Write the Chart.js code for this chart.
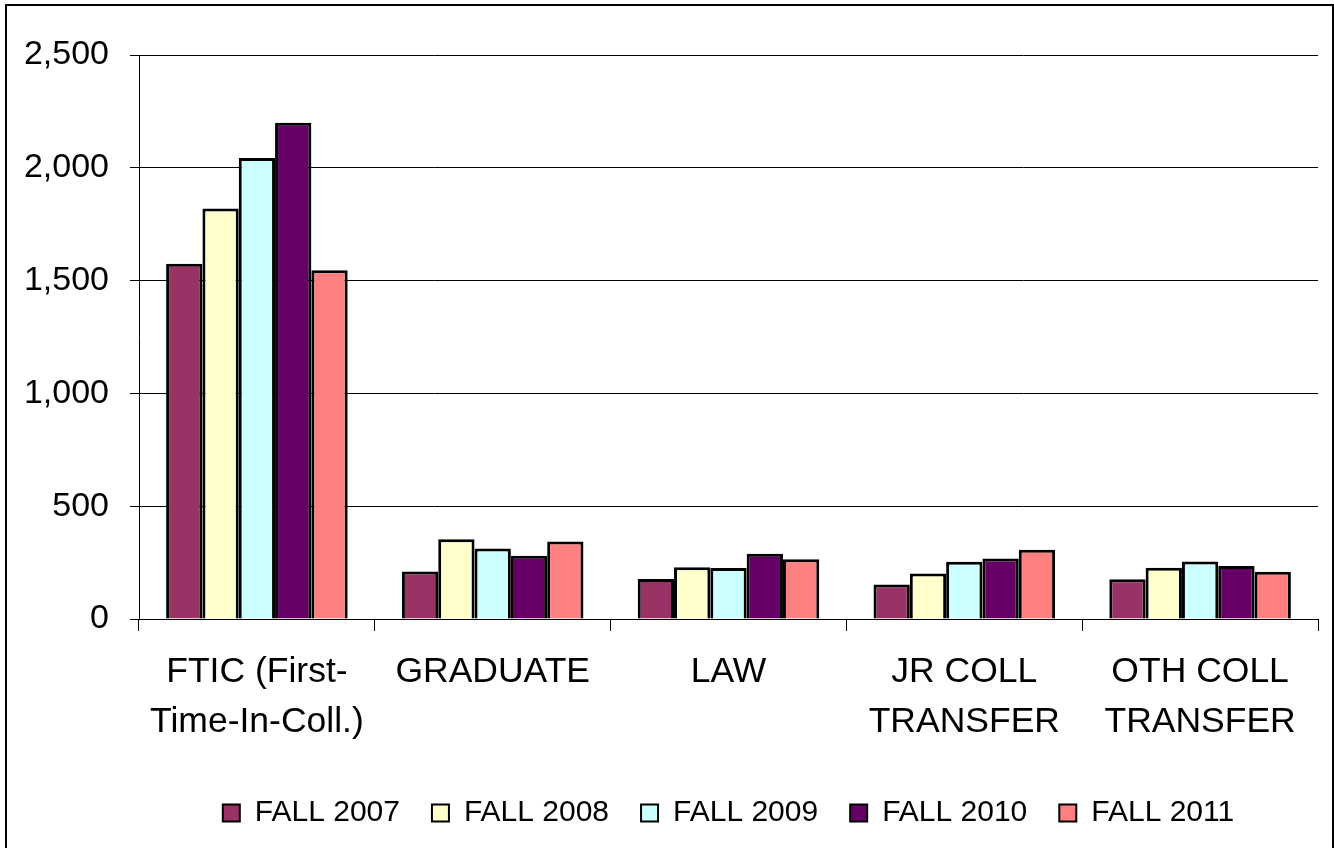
<!DOCTYPE html>
<html>
<head>
<meta charset="utf-8">
<script src="https://cdn.jsdelivr.net/npm/chart.js@4/dist/chart.umd.min.js"></script>
<style>
    html, body { margin: 0; padding: 0; background: #ffffff; overflow: hidden; }
    #wrap { position: relative; width: 1334px; height: 848px; }
    #frame {
        position: absolute; left: 5px; top: 4px; width: 1329px; height: 900px;
        border: 2px solid #000; box-sizing: border-box; pointer-events: none;
    }
</style>
</head>
<body>
<div id="wrap">
    <canvas id="enrollChart" width="1334" height="848"></canvas>
    <div id="frame"></div>
</div>
<script>
// categorias (etiquetas en varias lineas)
const categories = [
    ['FTIC (First-', 'Time-In-Coll.)'],
    ['GRADUATE'],
    ['LAW'],
    ['JR COLL', 'TRANSFER'],
    ['OTH COLL', 'TRANSFER']
];

const seriesNames = ['FALL 2007', 'FALL 2008', 'FALL 2009', 'FALL 2010', 'FALL 2011'];

const fall2007 = [1575, 211, 177, 153, 176];
const fall2008 = [1820, 354, 229, 202, 227];
const fall2009 = [2043, 313, 226, 254, 255];
const fall2010 = [2200, 280, 289, 268, 235];
const fall2011 = [1546, 344, 265, 307, 209];

const yTicks = [0, 500, 1000, 1500, 2000, 2500];

const seriesColors = ['#993366', '#FFFFCC', '#CCFFFF', '#660066', '#FF8080'];
const allSeries = [fall2007, fall2008, fall2009, fall2010, fall2011];

const FONT = "'Liberation Sans', Arial, sans-serif";

document.addEventListener('DOMContentLoaded', () => {
    const ctx = document.getElementById('enrollChart');

    new Chart(ctx.getContext('2d'), {
        type: 'bar',
        data: {
            labels: categories,
            datasets: allSeries.map((vals, i) => ({
                label: seriesNames[i],
                data: vals,
                backgroundColor: seriesColors[i],
                borderColor: '#000000',
                borderWidth: 3,
                borderSkipped: 'bottom',
                categoryPercentage: 0.77,
                barPercentage: 1.0
            }))
        },
        options: {
            responsive: false,
            animation: false,
            devicePixelRatio: 1,
            layout: { padding: { top: 55, right: 16, bottom: 10, left: 0 } },
            scales: {
                x: {
                    grid: { display: true, drawOnChartArea: false, color: '#000000', tickLength: 12, offset: true },
                    border: { color: '#000000', width: 1 },
                    ticks: {
                        color: '#000000',
                        padding: 16,
                        maxRotation: 0,
                        autoSkip: false,
                        font: { family: FONT, size: 35.5, lineHeight: 1.41 }
                    },
                    afterFit: (scale) => { scale.height = 147; }
                },
                y: {
                    min: 0,
                    max: 2500,
                    afterBuildTicks: (scale) => { scale.ticks = yTicks.map(v => ({ value: v })); },
                    grid: { color: '#000000', lineWidth: 1, tickLength: 9 },
                    border: { color: '#000000', width: 1 },
                    ticks: {
                        color: '#000000',
                        padding: 21,
                        font: { family: FONT, size: 34 },
                        callback: (v) => Number(v).toLocaleString('en-US')
                    },
                    afterFit: (scale) => { scale.width = 139; }
                }
            },
            plugins: {
                legend: {
                    position: 'bottom',
                    fullSize: false,
                    labels: {
                        color: '#000000',
                        boxWidth: 17,
                        boxHeight: 17,
                        padding: 32,
                        font: { family: FONT, size: 30 },
                        generateLabels: (chart) => chart.data.datasets.map((ds, i) => ({
                            text: ds.label,
                            fillStyle: ds.backgroundColor,
                            strokeStyle: '#000000',
                            lineWidth: 2,
                            fontColor: '#000000',
                            hidden: false,
                            datasetIndex: i
                        }))
                    }
                },
                tooltip: { enabled: false }
            }
        }
    });
});
</script>
</body>
</html>
